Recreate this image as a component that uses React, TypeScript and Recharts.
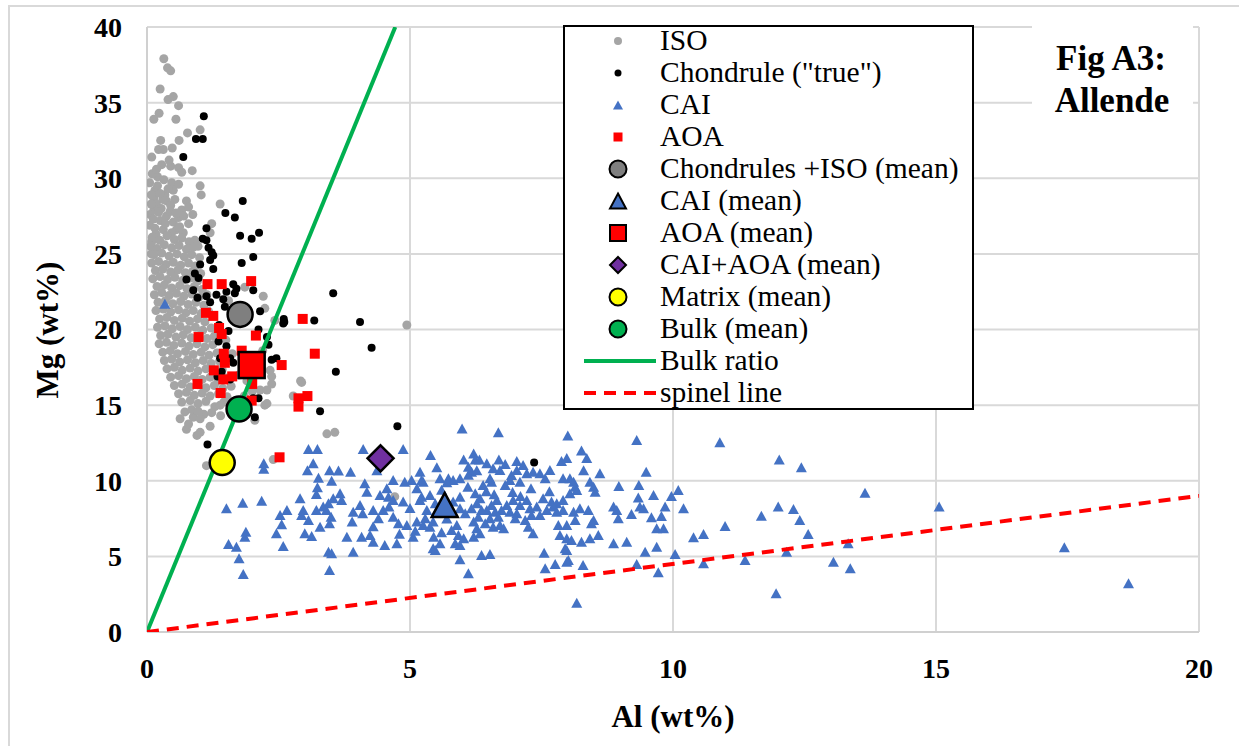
import React from "react";
import { ScatterChart, Scatter, XAxis, YAxis, CartesianGrid, Label } from "recharts";

type Pt = [number, number];

const iso: Pt[] = [
  [0.32, 37.9], [0.39, 37.3], [0.45, 37.1], [0.25, 35.9], [0.4, 35.2], [0.5, 35.4], [0.6, 34.8], [0.23, 34.3],
  [0.13, 33.9], [0.55, 33.9], [1.01, 33.2], [0.77, 33.0], [0.26, 32.5], [0.61, 32.5], [0.22, 31.9], [0.31, 31.9],
  [0.48, 32.0], [0.28, 30.9], [0.45, 30.8], [0.6, 30.7], [0.66, 30.4], [0.86, 30.5], [0.2, 30.1], [0.32, 29.9],
  [0.47, 29.7], [0.6, 29.6], [1.01, 29.5], [1.03, 28.9], [0.15, 29.2], [0.13, 28.7], [0.34, 28.9], [0.5, 29.2],
  [0.18, 28.3], [0.37, 28.5], [0.53, 28.6], [0.75, 28.5], [1.39, 28.3], [0.13, 27.9], [0.66, 27.9], [0.79, 28.1],
  [0.25, 27.2], [0.37, 27.5], [0.5, 27.1], [0.79, 27.0], [1.23, 27.0], [0.15, 26.7], [0.31, 26.6], [0.56, 26.6],
  [0.69, 26.4], [1.2, 26.4], [0.91, 25.9], [0.97, 25.5], [0.06, 27.6], [0.08, 28.9], [0.05, 26.9], [0.1, 30.3],
  [0.09, 31.4], [0.18, 30.6], [0.42, 31.2], [0.05, 29.7], [0.27, 28.0], [0.44, 27.8], [0.6, 27.4], [0.08, 25.0],
  [0.12, 27.3], [0.22, 27.75], [0.3, 28.6], [0.45, 28.2], [0.2, 29.5], [0.4, 29.3], [0.08, 28.3], [0.17, 26.3],
  [0.35, 27.0], [0.47, 26.4], [0.62, 26.8], [0.09, 25.8], [0.55, 27.7], [0.7, 27.5], [0.25, 29.0], [0.87, 27.6],
  [0.1, 26.1], [0.24, 25.9], [0.38, 26.2], [0.52, 25.95], [0.66, 26.05], [0.8, 25.8],
  [0.07, 25.5], [0.19, 25.35], [0.33, 25.6], [0.47, 25.4], [0.61, 25.55], [0.75, 25.3], [0.88, 25.45],
  [0.13, 24.95], [0.28, 25.05], [0.42, 24.85], [0.57, 25.0], [0.71, 24.8], [0.85, 24.95], [1.0, 24.75],
  [0.09, 24.4], [0.22, 24.5], [0.36, 24.3], [0.5, 24.45], [0.64, 24.25], [0.79, 24.4], [0.92, 24.2],
  [0.16, 23.9], [0.3, 24.0], [0.45, 23.8], [0.59, 23.95], [0.73, 23.75], [0.87, 23.85], [1.02, 23.7],
  [0.11, 23.35], [0.25, 23.5], [0.39, 23.3], [0.53, 23.45], [0.68, 23.25], [0.82, 23.4], [0.96, 23.2],
  [0.19, 22.85], [0.33, 22.95], [0.47, 22.75], [0.62, 22.9], [0.76, 22.7], [0.9, 22.85], [1.05, 22.65],
  [0.14, 22.3], [0.28, 22.45], [0.42, 22.25], [0.56, 22.4], [0.7, 22.2], [0.85, 22.35], [0.99, 22.15], [1.14, 22.3],
  [0.21, 21.8], [0.35, 21.9], [0.49, 21.7], [0.64, 21.85], [0.78, 21.65], [0.93, 21.8], [1.08, 21.6],
  [0.17, 21.25], [0.31, 21.35], [0.45, 21.15], [0.6, 21.3], [0.74, 21.1], [0.88, 21.25], [1.03, 21.05], [1.17, 21.2],
  [0.24, 20.7], [0.38, 20.8], [0.52, 20.6], [0.67, 20.75], [0.81, 20.55], [0.96, 20.7], [1.1, 20.5],
  [0.2, 20.15], [0.34, 20.25], [0.48, 20.05], [0.63, 20.2], [0.77, 20.0], [0.92, 20.15], [1.06, 19.95], [1.22, 20.1],
  [0.26, 19.6], [0.4, 19.7], [0.55, 19.5], [0.69, 19.65], [0.84, 19.45], [0.99, 19.6], [1.14, 19.4], [1.28, 19.55],
  [0.23, 19.05], [0.37, 19.15], [0.51, 18.95], [0.66, 19.1], [0.8, 18.9], [0.95, 19.05], [1.1, 18.85], [1.25, 19.0],
  [0.3, 18.5], [0.44, 18.6], [0.58, 18.4], [0.73, 18.55], [0.88, 18.35], [1.03, 18.5], [1.18, 18.3], [1.33, 18.45],
  [0.33, 17.95], [0.47, 18.05], [0.62, 17.85], [0.77, 18.0], [0.92, 17.8], [1.07, 17.95], [1.22, 17.75], [1.38, 17.9],
  [0.38, 17.4], [0.52, 17.5], [0.67, 17.3], [0.82, 17.45], [0.97, 17.25], [1.12, 17.4], [1.27, 17.2], [1.43, 17.35],
  [0.45, 16.85], [0.6, 16.95], [0.75, 16.75], [0.9, 16.9], [1.05, 16.7], [1.2, 16.85], [1.35, 16.65], [1.52, 16.8],
  [0.52, 16.3], [0.67, 16.4], [0.82, 16.2], [0.97, 16.35], [1.12, 16.15], [1.28, 16.3], [1.44, 16.1], [1.6, 16.25],
  [0.6, 15.75], [0.75, 15.85], [0.9, 15.65], [1.05, 15.8], [1.2, 15.6], [1.36, 15.75], [1.52, 15.55],
  [0.66, 15.2], [0.82, 15.3], [0.97, 15.1], [1.12, 15.25], [1.46, 15.2], [0.72, 14.55], [1.08, 14.4], [1.4, 14.3],
  [0.75, 13.4], [0.95, 13.0], [1.2, 13.6], [0.63, 14.1], [0.79, 13.75], [0.88, 14.2], [1.01, 14.1], [0.85, 14.7],
  [0.97, 14.6], [1.01, 13.2], [1.23, 14.5], [1.29, 14.9], [1.39, 15.0], [1.13, 11.0],
  [1.86, 22.8], [2.21, 22.2], [2.24, 21.4], [2.43, 20.6], [4.94, 20.3], [2.92, 16.6], [2.78, 15.6], [2.24, 15.0],
  [2.37, 16.4], [2.34, 17.3], [2.37, 16.9], [3.42, 13.1], [3.57, 13.2], [2.15, 16.0], [2.05, 14.0], [2.4, 11.4],
  [4.71, 8.95], [1.55, 21.9], [1.7, 20.6], [1.5, 19.3], [1.62, 18.4], [1.75, 17.0], [1.9, 16.6], [2.0, 15.9],
  [1.85, 15.6], [1.6, 15.2], [2.2, 18.6], [2.28, 16.0], [2.94, 16.5], [2.28, 15.1],
];

const chondrule: Pt[] = [
  [1.08, 34.1], [0.93, 32.6], [1.06, 32.6], [0.69, 31.4], [1.82, 28.5], [1.49, 27.7], [1.67, 27.4], [1.13, 26.7],
  [1.77, 26.2], [1.99, 26.0], [2.13, 26.4], [1.06, 26.0], [1.17, 25.4], [1.23, 25.1], [1.2, 24.6], [1.26, 24.9],
  [2.02, 24.8], [1.8, 24.4], [1.01, 24.3], [1.26, 24.0], [0.91, 23.7], [0.98, 23.4], [0.75, 23.3], [0.88, 22.6],
  [0.96, 22.1], [1.13, 22.2], [1.2, 21.8], [1.32, 22.3], [1.45, 22.0], [1.51, 22.5], [1.64, 23.0], [1.7, 22.7],
  [1.48, 21.5], [1.62, 20.9], [2.15, 21.2], [1.37, 20.3], [1.55, 19.9], [2.12, 20.0], [2.28, 19.5], [2.61, 20.5],
  [1.36, 19.2], [1.51, 18.9], [2.31, 19.0], [1.58, 18.1], [1.64, 17.8], [2.37, 18.0], [2.46, 18.1], [1.42, 17.2],
  [1.34, 16.9], [1.58, 16.7], [2.02, 15.45], [2.12, 15.45], [2.05, 14.2], [1.15, 12.4], [3.54, 22.4], [4.05, 20.5],
  [4.27, 18.8], [3.59, 17.2], [3.18, 20.6], [2.6, 20.7], [2.59, 20.4], [3.29, 14.6], [4.76, 13.6], [1.67, 22.4],
  [2.02, 22.6], [7.36, 11.2], [1.39, 18.1], [1.13, 25.9],
];

const cai: Pt[] = [
  [0.34, 21.7], [3.07, 12.1], [3.24, 12.1], [4.11, 12.1], [4.87, 12.1], [5.99, 13.45], [6.68, 13.2],
  [2.22, 11.15], [2.22, 10.8], [3.16, 11.15], [3.05, 10.7], [3.47, 10.7], [3.64, 10.67], [3.87, 10.6], [5.39, 11.7],
  [3.26, 10.2], [3.51, 10.0], [3.24, 9.57], [3.22, 9.12], [2.91, 8.84], [3.67, 9.17], [3.54, 8.84], [3.7, 8.73],
  [3.45, 8.51], [3.35, 8.29], [4.37, 10.7], [4.68, 10.05], [4.9, 9.94], [5.03, 10.05], [5.25, 9.94],
  [4.14, 9.83], [4.18, 9.28], [4.56, 9.5], [4.59, 8.95], [4.68, 8.73], [4.87, 8.62], [4.43, 9.06],
  [5.13, 9.5], [5.22, 8.95], [5.38, 9.06], [5.48, 8.51], [1.51, 8.18], [1.82, 8.55], [2.18, 8.68], [2.53, 7.74],
  [2.66, 8.07], [2.97, 8.07], [2.94, 7.74], [3.07, 7.4], [3.22, 8.07], [3.41, 8.07], [3.5, 7.62], [3.47, 7.19],
  [3.92, 7.95], [4.05, 8.4], [4.1, 7.85], [4.3, 8.07], [4.4, 7.52], [4.49, 8.07], [4.68, 7.62], [4.78, 7.19],
  [4.94, 7.07], [5.13, 7.3], [5.29, 7.52], [5.44, 7.3], [2.56, 7.12], [2.46, 6.53], [2.59, 5.69], [1.88, 6.63],
  [1.86, 6.3], [3.0, 6.53], [3.13, 6.35], [3.29, 6.96], [3.8, 6.3], [4.08, 6.3], [4.24, 6.41], [4.3, 5.97],
  [4.52, 5.75], [4.75, 5.87], [5.06, 6.3], [1.55, 5.82], [1.7, 5.64], [1.75, 4.87], [1.83, 3.83], [3.45, 5.31],
  [3.51, 5.2], [3.47, 4.1], [3.92, 5.31], [5.44, 5.53], [8.0, 13.0], [9.31, 12.7], [10.89, 12.54],
  [6.21, 11.8], [6.02, 11.4], [6.24, 11.4], [6.32, 11.4], [6.69, 11.4], [6.81, 11.1], [7.03, 11.3], [5.51, 10.9],
  [7.88, 11.3], [7.98, 11.5], [8.26, 12.0], [8.36, 11.5], [12.02, 11.4], [12.44, 10.9], [9.49, 10.6], [8.61, 10.5],
  [8.3, 10.7], [6.17, 10.6], [6.27, 10.7], [6.11, 10.4], [5.19, 10.6], [5.22, 10.05], [5.57, 10.16], [5.73, 10.16],
  [5.82, 10.05], [5.95, 10.16], [6.52, 10.16], [6.55, 9.94], [6.39, 9.72], [6.93, 10.38], [6.9, 10.05], [7.09, 9.94],
  [7.22, 10.49], [7.34, 10.6], [7.47, 10.49], [7.57, 10.16], [7.66, 10.71], [8.04, 10.16], [8.11, 9.94], [8.14, 9.61],
  [7.91, 10.16], [8.42, 9.94], [8.49, 9.61], [8.52, 9.28], [8.97, 9.65], [9.35, 9.72], [10.1, 9.39], [9.97, 9.0],
  [9.63, 9.06], [9.34, 8.9], [9.37, 8.29], [9.44, 8.18], [8.87, 8.29], [8.93, 8.07], [8.96, 7.52], [9.21, 7.8],
  [9.59, 7.58], [9.78, 7.67], [9.85, 8.29], [10.2, 8.18], [12.0, 8.29], [12.29, 8.13], [11.68, 7.69], [12.41, 7.4],
  [12.57, 6.48], [10.99, 7.01], [10.39, 6.26], [10.58, 6.48], [9.69, 6.86], [9.82, 6.86], [9.69, 5.64], [9.47, 5.31],
  [10.04, 5.16], [9.31, 4.5], [9.72, 3.95], [11.37, 4.76], [12.16, 5.31], [10.58, 4.54], [11.96, 2.56], [8.17, 1.94],
  [8.87, 5.87], [9.12, 5.97], [8.58, 6.41], [8.42, 6.2], [8.45, 7.19], [8.49, 7.4], [8.39, 8.07], [8.23, 8.18],
  [8.11, 7.95], [7.91, 8.07], [7.79, 7.95], [7.72, 8.29], [8.14, 7.4], [7.98, 7.07], [7.82, 7.07], [7.85, 6.41],
  [7.98, 6.2], [8.07, 6.08], [8.26, 5.97], [7.95, 5.53], [8.01, 4.76], [8.29, 4.43], [7.76, 4.5], [7.57, 4.21],
  [7.55, 5.24], [7.53, 8.84], [7.41, 8.29], [7.47, 7.74], [7.6, 8.07], [7.69, 8.62], [7.22, 8.73], [7.09, 8.4],
  [7.28, 8.18], [7.31, 7.74], [7.19, 7.4], [7.25, 6.96], [7.34, 6.53], [6.96, 8.73], [6.84, 8.4], [6.74, 8.07],
  [6.9, 7.95], [7.03, 7.85], [7.0, 7.52], [6.65, 8.73], [6.55, 8.4], [6.46, 8.07], [6.62, 7.95], [6.68, 7.62],
  [6.52, 7.52], [6.43, 7.19], [6.58, 6.96], [6.71, 7.07], [6.78, 6.86], [6.24, 9.17], [6.33, 8.84], [6.27, 8.51],
  [6.17, 8.18], [6.36, 8.07], [6.3, 7.62], [6.21, 7.3], [6.27, 6.86], [6.33, 6.53], [6.21, 6.3], [6.02, 6.2],
  [5.95, 8.95], [5.82, 8.62], [5.95, 8.18], [6.05, 7.85], [5.89, 7.07], [5.79, 6.74], [5.92, 6.41], [5.86, 5.87],
  [5.95, 5.75], [5.19, 8.73], [5.32, 8.07], [5.25, 7.07], [5.38, 6.96], [5.45, 6.3], [5.57, 5.87], [5.48, 5.42],
  [5.95, 4.81], [6.11, 3.88], [6.36, 5.09], [6.52, 5.16], [7.98, 4.65], [7.98, 5.42], [6.81, 9.72], [7.79, 8.51],
  [8.04, 9.17], [8.17, 9.39], [7.91, 8.73], [7.03, 10.71], [7.15, 11.04], [6.11, 10.93], [6.46, 11.15], [6.58, 10.82],
  [6.71, 10.71], [6.45, 9.3], [6.95, 9.25], [7.3, 9.5], [7.65, 9.3], [7.1, 9.0], [6.6, 9.1], [5.6, 9.4], [5.5, 8.0],
  [5.7, 7.5], [5.6, 6.6], [5.1, 6.7], [4.8, 6.5], [4.3, 7.0], [3.9, 7.3], [4.6, 8.3], [5.0, 8.2], [5.7, 9.9],
  [6.1, 9.6], [13.65, 9.21], [15.06, 8.29], [13.33, 5.87], [13.05, 4.65], [13.37, 4.21], [17.44, 5.6], [18.66, 3.22],
];

const aoa: Pt[] = [
  [1.15, 23.0], [1.42, 23.0], [1.98, 23.2], [1.12, 21.1], [1.26, 20.9], [1.37, 20.1], [1.42, 19.7], [0.98, 19.5],
  [2.07, 19.6], [1.46, 18.4], [1.48, 17.8], [1.8, 18.6], [1.27, 17.3], [1.45, 16.7], [1.62, 16.9], [0.96, 16.4],
  [1.4, 15.8], [2.0, 16.4], [1.99, 15.3], [2.56, 17.65], [2.96, 20.7], [3.19, 18.4], [2.88, 15.45], [3.05, 15.6],
  [2.88, 14.9], [2.52, 11.55],
];

const chondIsoMean: Pt[] = [[1.77, 21.0]];
const caiMean: Pt[] = [[5.66, 8.4]];
const aoaMean: Pt[] = [[1.99, 17.65]];
const caiAoaMean: Pt[] = [[4.44, 11.48]];
const matrixMean: Pt[] = [[1.43, 11.2]];
const bulkMean: Pt[] = [[1.75, 14.74]];
const bulkRatio: Pt[] = [[0, 0], [4.72, 40]];
const spinelLine: Pt[] = [[0, 0], [20, 9.0]];

const xTicks = [0, 5, 10, 15, 20];
const yTicks = [0, 5, 10, 15, 20, 25, 30, 35, 40];

const legendLabels = [
  "ISO",
  'Chondrule ("true")',
  "CAI",
  "AOA",
  "Chondrules +ISO (mean)",
  "CAI (mean)",
  "AOA (mean)",
  "CAI+AOA (mean)",
  "Matrix (mean)",
  "Bulk (mean)",
  "Bulk ratio",
  "spinel line",
];

const SERIF = "Liberation Serif, Times New Roman, serif";
const toData = (pts: Pt[]) => pts.map(([x, y]) => ({ x, y }));

const circle = (r: number, fill: string, stroke = "none", sw = 0) => (p: any) =>
  <circle cx={p.cx} cy={p.cy} r={r} fill={fill} stroke={stroke} strokeWidth={sw} />;
const square = (s: number, fill: string, stroke = "none", sw = 0) => (p: any) =>
  <rect x={p.cx - s / 2} y={p.cy - s / 2} width={s} height={s} fill={fill} stroke={stroke} strokeWidth={sw} />;
const triangle = (w: number, h: number, fill: string, stroke = "none", sw = 0) => (p: any) =>
  <polygon
    points={`${p.cx},${p.cy - h / 2} ${p.cx + w / 2},${p.cy + h / 2} ${p.cx - w / 2},${p.cy + h / 2}`}
    fill={fill} stroke={stroke} strokeWidth={sw}
  />;
const diamond = (s: number, fill: string, stroke = "none", sw = 0) => (p: any) =>
  <polygon
    points={`${p.cx},${p.cy - s / 2} ${p.cx + s / 2},${p.cy} ${p.cx},${p.cy + s / 2} ${p.cx - s / 2},${p.cy}`}
    fill={fill} stroke={stroke} strokeWidth={sw}
  />;
const noShape = () => <g />;

function LegendSymbol({ i, cx, cy }: { i: number; cx: number; cy: number }) {
  const p = { cx, cy };
  switch (i) {
    case 0: return circle(4, "#A5A5A5")(p);
    case 1: return circle(3.5, "#000")(p);
    case 2: return triangle(10, 9, "#4472C4")(p);
    case 3: return square(9, "#FF0000")(p);
    case 4: return circle(8.5, "#7F7F7F", "#000", 2)(p);
    case 5: return triangle(16, 15, "#4472C4", "#000", 2)(p);
    case 6: return square(16, "#FF0000", "#000", 2)(p);
    case 7: return diamond(16, "#7030A0", "#000", 2)(p);
    case 8: return circle(8.5, "#FFFF00", "#000", 2)(p);
    case 9: return circle(8.5, "#00B050", "#000", 2)(p);
    case 10: return <line x1={19} x2={91} y1={cy} y2={cy} stroke="#00B050" strokeWidth={4} />;
    default: return <line x1={19} x2={91} y1={cy} y2={cy} stroke="#FF0000" strokeWidth={4} strokeDasharray="12 8" />;
  }
}

export default function App() {
  if (typeof document !== "undefined") document.body.style.margin = "0";
  const tickStyle = { fontFamily: SERIF, fontWeight: "bold", fontSize: 28, fill: "#000" };
  return (
    <div style={{ position: "relative", width: 1239, height: 746, background: "#fff", overflow: "hidden" }}>
      <div style={{ position: "absolute", left: 8, top: 5, width: 1300, height: 800, border: "2px solid #D9D9D9" }} />
      <ScatterChart width={1239} height={746} margin={{ top: 27, right: 40, bottom: 0, left: 0 }}>
        <CartesianGrid stroke="#D9D9D9" strokeWidth={2} />
        <XAxis
          type="number" dataKey="x" domain={[0, 20]} ticks={xTicks} height={114}
          tick={tickStyle} tickLine={false} tickSize={0} tickMargin={26}
          axisLine={{ stroke: "#D0D0D0", strokeWidth: 2 }} allowDataOverflow
        >
          <Label
            content={() => (
              <text x={673} y={727} textAnchor="middle" fontFamily={SERIF} fontWeight="bold" fontSize={31}>
                Al (wt%)
              </text>
            )}
          />
        </XAxis>
        <YAxis
          type="number" dataKey="y" domain={[0, 40]} ticks={yTicks} width={147}
          tick={tickStyle} tickLine={false} tickSize={0} tickMargin={25}
          axisLine={{ stroke: "#D0D0D0", strokeWidth: 2 }} allowDataOverflow
        >
          <Label
            content={() => (
              <text transform="translate(58,330) rotate(-90)" x={0} y={0} textAnchor="middle"
                fontFamily={SERIF} fontWeight="bold" fontSize={31}>
                Mg (wt%)
              </text>
            )}
          />
        </YAxis>
        <Scatter name="ISO" data={toData(iso)} shape={circle(4.5, "#A5A5A5")} isAnimationActive={false} />
        <Scatter name='Chondrule ("true")' data={toData(chondrule)} shape={circle(4, "#000")} isAnimationActive={false} />
        <Scatter name="CAI" data={toData(cai)} shape={triangle(11, 10, "#4472C4")} isAnimationActive={false} />
        <Scatter name="AOA" data={toData(aoa)} shape={square(10, "#FF0000")} isAnimationActive={false} />
        <Scatter name="Bulk ratio" data={toData(bulkRatio)} shape={noShape}
          line={{ stroke: "#00B050", strokeWidth: 4 }} isAnimationActive={false} />
        <Scatter name="spinel line" data={toData(spinelLine)} shape={noShape}
          line={{ stroke: "#FF0000", strokeWidth: 4, strokeDasharray: "12 8" }} isAnimationActive={false} />
        <Scatter name="Chondrules +ISO (mean)" data={toData(chondIsoMean)} shape={circle(12.5, "#7F7F7F", "#000", 2.5)} isAnimationActive={false} />
        <Scatter name="CAI (mean)" data={toData(caiMean)} shape={triangle(26, 24, "#4472C4", "#000", 2.5)} isAnimationActive={false} />
        <Scatter name="AOA (mean)" data={toData(aoaMean)} shape={square(26, "#FF0000", "#000", 2.5)} isAnimationActive={false} />
        <Scatter name="CAI+AOA (mean)" data={toData(caiAoaMean)} shape={diamond(26, "#7030A0", "#000", 2.5)} isAnimationActive={false} />
        <Scatter name="Matrix (mean)" data={toData(matrixMean)} shape={circle(12.5, "#FFFF00", "#000", 2.5)} isAnimationActive={false} />
        <Scatter name="Bulk (mean)" data={toData(bulkMean)} shape={circle(12.5, "#00B050", "#000", 2.5)} isAnimationActive={false} />
      </ScatterChart>

      <div style={{ position: "absolute", left: 563, top: 25, width: 411, height: 385, boxSizing: "border-box", border: "2px solid #000", background: "#fff" }}>
        <svg width={407} height={381} style={{ position: "absolute", left: 0, top: 0, overflow: "visible" }}>
          {legendLabels.map((lab, i) => {
            const cy = 14 + 32 * i;
            return (
              <g key={lab}>
                <LegendSymbol i={i} cx={53} cy={cy} />
                <text x={95} y={cy + 9} fontFamily={SERIF} fontSize={29.5} fill="#000">{lab}</text>
              </g>
            );
          })}
        </svg>
      </div>

      <div style={{ position: "absolute", left: 1032, top: 12, width: 161, height: 115, background: "#fff" }}>
        <svg width={161} height={115}>
          <text x={79} y={58} textAnchor="middle" fontFamily={SERIF} fontWeight="bold" fontSize={35}>Fig A3:</text>
          <text x={80} y={100} textAnchor="middle" fontFamily={SERIF} fontWeight="bold" fontSize={35}>Allende</text>
        </svg>
      </div>
    </div>
  );
}
